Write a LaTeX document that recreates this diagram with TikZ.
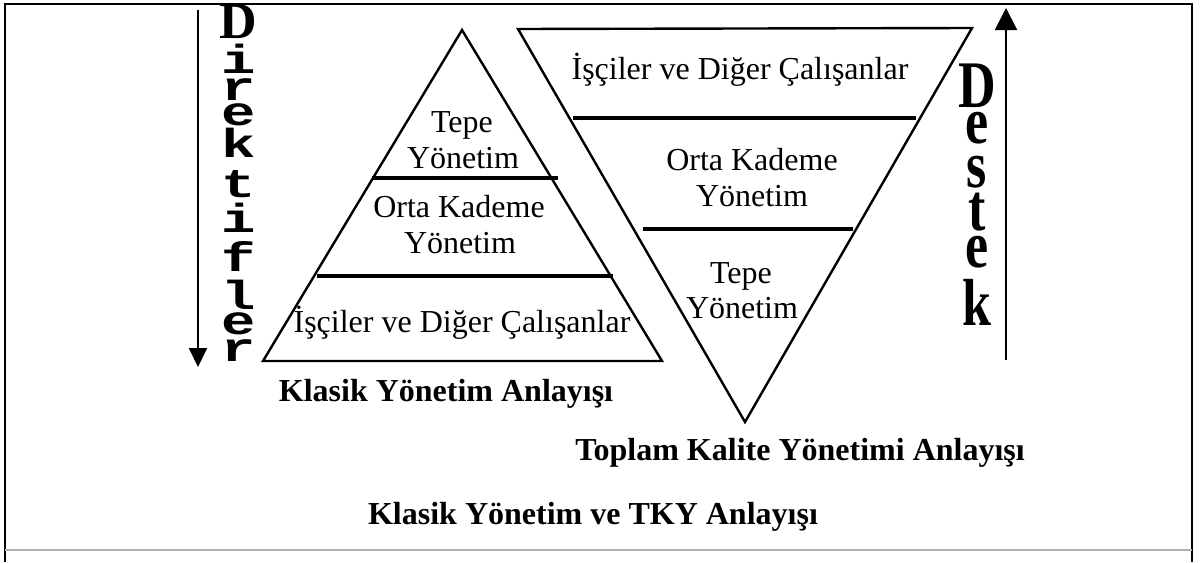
\documentclass[tikz,border=0pt]{standalone}
\usepackage{fontspec}
\setmainfont{Liberation Serif}
\newfontfamily\monofam{Liberation Mono}
\usetikzlibrary{arrows.meta}
% stacked letters of the two vertical words
\newcommand\dirletter[1]{\scalebox{1.1}[0.78]{#1}}
\newcommand\desletter[1]{\scalebox{1}[1.28]{#1}}
\begin{document}
\begin{tikzpicture}[x=0.5pt,y=-0.5pt,
  edge/.style={line width=1.2pt, line join=miter},
  divider/.style={line width=2pt},
  lbl/.style={anchor=base, inner sep=0pt, font=\fontsize{16}{18}\selectfont},
  caption/.style={anchor=base, inner sep=0pt, font=\bfseries\fontsize{16}{18}\selectfont},
  dirl/.style={anchor=base, inner sep=0pt, font=\monofam\bfseries\fontsize{26}{28}\selectfont},
  desl/.style={anchor=base, inner sep=0pt, font=\bfseries\fontsize{26}{28}\selectfont},
  framestyle/.style={line width=1pt},
]
\useasboundingbox (0,0) rectangle (1203,562);

% outer frame
\draw[framestyle] (5,562) -- (5,4) -- (1192,4) -- (1192,562);
\draw[framestyle, gray!60] (5,550) -- (1192,550);

% classic pyramid
\draw[edge] (462,30) -- (662,361) -- (263,361) -- cycle;
\draw[divider] (372,178) -- (558,178);
\draw[divider] (317,276) -- (613,276);

\node[lbl] (lt1) at (462,132) {Tepe};
\node[lbl] (lt2) at (463,168) {Yönetim};
\node[lbl] (lm1) at (459,217) {Orta Kademe};
\node[lbl] (lm2) at (460,253) {Yönetim};
\node[lbl] (lb)  at (462,332) {İşçiler ve Diğer Çalışanlar};

% inverted pyramid
\draw[edge] (518,29) -- (972,28) -- (745,422) -- cycle;
\draw[divider] (573,118) -- (916,118);
\draw[divider] (643,229) -- (853,229);

\node[lbl] (rt)  at (740,79)  {İşçiler ve Diğer Çalışanlar};
\node[lbl] (rm1) at (752,170) {Orta Kademe};
\node[lbl] (rm2) at (752,206) {Yönetim};
\node[lbl] (rb1) at (741,283) {Tepe};
\node[lbl] (rb2) at (742,318) {Yönetim};

% captions
\node[caption] (capl) at (446,401) {Klasik Yönetim Anlayışı};
\node[caption] (capr) at (800,460) {Toplam Kalite Yönetimi Anlayışı};
\node[caption] (capm) at (593,524) {Klasik Yönetim ve TKY Anlayışı};

% downward arrow with "Direktifler"
\coordinate (dtop) at (198,10);
\coordinate (dbot) at (198,367);
\draw[line width=1pt, -{Triangle[length=9.5pt,width=9pt]}] (dtop) -- (dbot);

\node[desl] (d1) at (238,39) {D};
\node[dirl] (d2)  at (239,73)  {\dirletter{i}};
\node[dirl] (d3)  at (239,100) {\dirletter{r}};
\node[dirl] (d4)  at (239,125) {\dirletter{e}};
\node[dirl] (d5)  at (239,157) {\dirletter{k}};
\node[dirl] (d6)  at (239,197) {\dirletter{t}};
\node[dirl] (d7)  at (239,232) {\dirletter{i}};
\node[dirl] (d8)  at (239,271) {\dirletter{f}};
\node[dirl] (d9)  at (239,309) {\dirletter{l}};
\node[dirl] (d10) at (239,334) {\dirletter{e}};
\node[dirl] (d11) at (239,361) {\dirletter{r}};

% upward arrow with "Destek"
\coordinate (ubot) at (1006,360);
\coordinate (utop) at (1006,8);
\draw[line width=1pt, -{Triangle[length=11pt,width=11pt]}] (ubot) -- (utop);

\node[desl] (s1) at (977,107) {\desletter{D}};
\node[desl] (s2) at (977,143) {\desletter{e}};
\node[desl] (s3) at (977,187) {\desletter{s}};
\node[desl] (s4) at (977,230) {\desletter{t}};
\node[desl] (s5) at (977,267) {\desletter{e}};
\node[desl] (s6) at (977,325) {\desletter{k}};
\end{tikzpicture}
\end{document}
